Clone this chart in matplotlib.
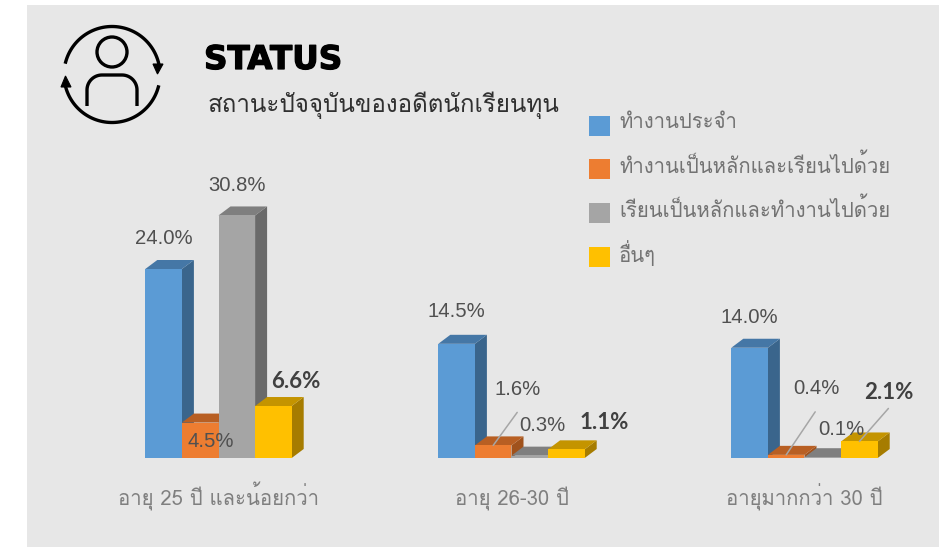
import matplotlib
matplotlib.use("Agg")
import numpy as np
import matplotlib.pyplot as plt
import matplotlib.patheffects as pe
from matplotlib.patches import Rectangle, Polygon, Circle

# ---- data ----
categories = ["อายุ 25 ปี และน้อยกว่า", "อายุ 26-30 ปี", "อายุมากกว่า 30 ปี"]
series_names = ["ทำงานประจำ", "ทำงานเป็นหลักและเรียนไปด้วย", "เรียนเป็นหลักและทำงานไปด้วย", "อื่นๆ"]
regular_job = [24.0, 14.5, 14.0]
work_and_study = [4.5, 1.6, 0.4]
study_and_work = [30.8, 0.3, 0.1]
others = [6.6, 1.1, 2.1]
title = "STATUS"
subtitle = "สถานะปัจจุบันของอดีตนักเรียนทุน"

# ---- style / layout ----
W, H = 948, 548
THAI = ["Loma", "Noto Sans Thai Looped", "DejaVu Sans"]
front = ["#5B9BD5", "#ED7D31", "#A5A5A5", "#FFC000"]
top_c = ["#4577A6", "#B85F23", "#7F7F7F", "#C49400"]
side_c = ["#3A658C", "#A0521C", "#6A6A6A", "#A67C00"]
PX_GROUP, PX_PER_PCT, PX_BAR, PX_DX, PX_DY = 293.0, 7.875, 36.6, 12.0, 9.0
BASE_Y, G0_X = 458.0, 218.5
AX_L, AX_R, AX_T = 60.0, 942.0, 130.0

fig = plt.figure(figsize=(W / 100, H / 100), dpi=100, facecolor="white")

# pixel-space backdrop for panel, icon, title and legend
bg = fig.add_axes([0, 0, 1, 1])
bg.set_xlim(0, W); bg.set_ylim(H, 0); bg.axis("off")
bg.add_patch(Rectangle((27, 5), 912, 542, fc="#E7E7E7", ec="none"))

# icon
lw = 2.4
bg.add_patch(Circle((112, 52), 15, fc="none", ec="black", lw=lw))
t = np.radians(np.linspace(180, 270, 20))
body_x = np.r_[87, 102 + 15 * np.cos(t), 122 - 15 * np.cos(t[::-1]), 137]
body_y = np.r_[106, 90 + 15 * np.sin(t), 90 + 15 * np.sin(t[::-1]), 106]
bg.plot(body_x, body_y, color="black", lw=lw, solid_capstyle="butt")
cx, cy, r = 112, 74.5, 48
a1 = np.radians(np.linspace(195, 347, 60))
a2 = np.radians(np.linspace(15, 165, 60))
bg.plot(cx + r * np.cos(a1), cy + r * np.sin(a1), color="black", lw=lw)
bg.plot(cx + r * np.cos(a2), cy + r * np.sin(a2), color="black", lw=lw)
bg.add_patch(Polygon([[153, 64], [163, 64], [157.5, 74]], fc="black", ec="black", lw=0.8))
bg.add_patch(Polygon([[61, 87], [71, 87], [65.5, 76]], fc="black", ec="black", lw=0.8))

bg.text(204, 56, title, family="DejaVu Sans", weight="bold", fontsize=23.5, color="black",
        ha="left", va="center_baseline",
        path_effects=[pe.withStroke(linewidth=0.9, foreground="black")])
bg.text(208, 105, subtitle, family=THAI, fontsize=17.4, color="#303030", ha="left", va="center")

# legend
for name, col, y in zip(series_names, front, [126, 169, 213, 257]):
    bg.add_patch(Rectangle((589, y - 10), 21, 20, fc=col, ec="none"))
    bg.text(619, y - 4, name, family=THAI, fontsize=14.6, color="#737373", ha="left", va="center")

# chart axes
ax = fig.add_axes([AX_L / W, 1 - BASE_Y / H, (AX_R - AX_L) / W, (BASE_Y - AX_T) / H])
ax.patch.set_alpha(0)
for s in ax.spines.values():
    s.set_visible(False)
ax.set_yticks([])
ax.set_xticks(range(len(categories)))
ax.set_xticklabels(categories, family=THAI, fontsize=14.6, color="#7F7F7F")
ax.tick_params(axis="x", length=0, pad=34.5)
for lab in ax.get_xticklabels():
    lab.set_va("baseline")

w = PX_BAR / PX_GROUP
ddx = PX_DX / PX_GROUP
ddy = PX_DY / PX_PER_PCT
all_series = [regular_job, work_and_study, study_and_work, others]
x_pos = np.arange(len(categories))

for g in x_pos:
    for i, vals in enumerate(all_series):
        v = vals[g]
        x0 = g + (i - 2) * w
        x1 = x0 + w
        ax.add_patch(Polygon([[x1, 0], [x1 + ddx, ddy], [x1 + ddx, v + ddy], [x1, v]],
                             fc=side_c[i], ec="none", clip_on=False))
        ax.add_patch(Polygon([[x0, v], [x0 + ddx, v + ddy], [x1 + ddx, v + ddy], [x1, v]],
                             fc=top_c[i], ec="none", clip_on=False))
        ax.bar(x0 + w / 2, v, w, color=front[i], edgecolor="none", clip_on=False)
ax.set_xlim((AX_L - G0_X) / PX_GROUP, (AX_R - G0_X) / PX_GROUP)
ax.set_ylim(0, (BASE_Y - AX_T) / PX_PER_PCT)

# label offsets from bar-top centre, pixels: series -> group -> (dx, dy)
label_off = [
    [(0, 30.5), (0, 32), (0, 30.5)],
    [(11, -18.5), (24, 56), (30, 66)],
    [(0, 30), (13, 30.5), (19, 28)],
    [(22, 25), (38, 27), (29, 49)],
]
bold = [False, False, False, True]
for i, vals in enumerate(all_series):
    for g, v in enumerate(vals):
        x = g + (i - 1.5) * w
        if bold[i]:
            ax.annotate(f"{v:.1f}%", (x, v), xytext=label_off[i][g], textcoords="offset pixels",
                        family="Lato", weight="bold", fontsize=16, color="#404040",
                        ha="center", va="center", zorder=6)
        else:
            ax.annotate(f"{v:.1f}%", (x, v), xytext=label_off[i][g], textcoords="offset pixels",
                        family="Liberation Sans", fontsize=14.6, color="#505050",
                        ha="center", va="center", zorder=6)

# leader lines
leaders = [(1, 1, (24, 33)), (1, 2, (29, 43)), (3, 2, (29, 33))]
for i, g, off in leaders:
    v = all_series[i][g]
    x = g + (i - 1.5) * w
    ax.annotate("", (x, v), xytext=off, textcoords="offset pixels",
                arrowprops=dict(arrowstyle="-", color="#A6A6A6", lw=1.1, shrinkA=0, shrinkB=0),
                zorder=5)

fig.savefig("out.png", dpi=100, facecolor="white")
